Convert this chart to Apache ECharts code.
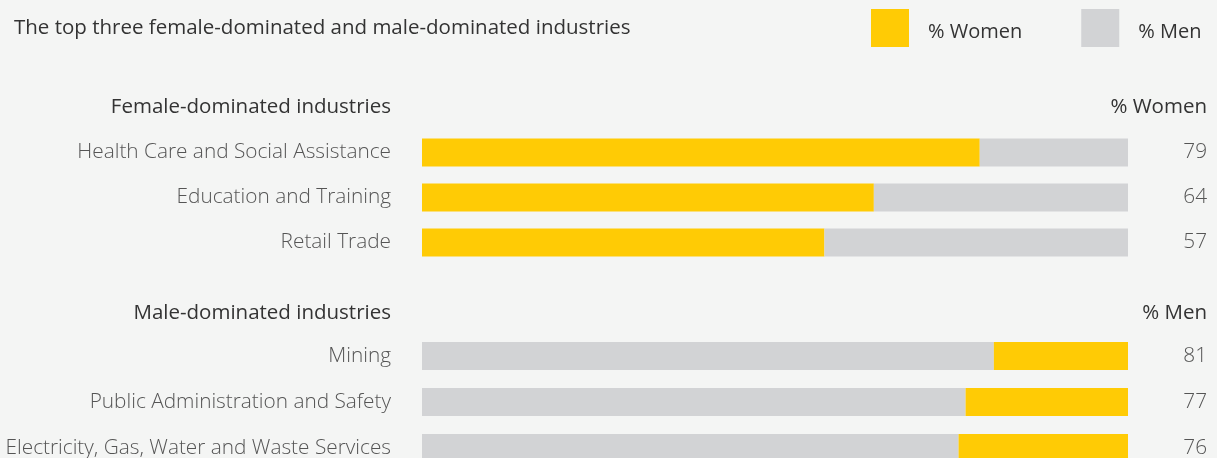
<!DOCTYPE html>
<html>
<head>
<meta charset="utf-8">
<script src="https://cdn.jsdelivr.net/npm/echarts@6/dist/echarts.min.js"></script>
<style>
  html, body { margin: 0; padding: 0; background: #f4f5f4; }
  #main { width: 1217px; height: 458px; }
</style>
</head>
<body>
<div id="main"></div>
<script>
// top three female-dominated industries
var femaleCats = ['Health Care and Social Assistance', 'Education and Training', 'Retail Trade'];
var femaleWomen = [79, 64, 57];
var femaleMen = [21, 36, 43];

// top three male-dominated industries
var maleCats = ['Mining', 'Public Administration and Safety', 'Electricity, Gas, Water and Waste Services'];
var maleMen = [81, 77, 76];
var maleWomen = [19, 23, 24];

var YELLOW = '#ffcb05';
var GREY = '#d2d3d5';
var FONT = '"Open Sans", sans-serif';

var myChart = echarts.init(document.getElementById('main'));

function catAxis(idx, data, side) {
    var left = side === 'left';
    return {
        type: 'category',
        gridIndex: idx,
        data: data,
        inverse: true,
        position: side,
        axisLine: { show: false },
        axisTick: { show: false },
        axisLabel: {
            margin: left ? 31 : 79,
            align: 'right',
            fontFamily: FONT,
            fontWeight: 300,
            fontSize: 20.8,
            color: '#555'
        }
    };
}

function header(text, right, top) {
    return {
        text: text,
        right: right,
        top: top,
        textStyle: { fontFamily: FONT, fontWeight: 'normal', fontSize: 20.5, color: '#333' }
    };
}

myChart.setOption({
    backgroundColor: '#f4f5f4',
    animation: false,
    title: [
        {
            text: 'The top three female-dominated and male-dominated industries',
            left: 9, top: 13,
            textStyle: { fontFamily: FONT, fontWeight: 'normal', fontSize: 20.5, color: '#333' }
        },
        header('Female-dominated industries', 821, 92),
        header('% Women', 5, 92),
        header('Male-dominated industries', 821, 298),
        header('% Men', 5, 298)
    ],
    legend: {
        left: 866, top: 4,
        itemWidth: 38, itemHeight: 38, itemGap: 59,
        icon: 'rect',
        data: ['% Women', '% Men'],
        formatter: '{t|{name}}',
        textStyle: {
            rich: {
                t: { fontFamily: FONT, fontSize: 20, color: '#333', padding: [9, 0, 0, 14] }
            }
        }
    },
    grid: [
        { left: 422, right: 89, top: 130, height: 135, outerBoundsMode: 'none' },
        { left: 422, right: 89, top: 333, height: 138, outerBoundsMode: 'none' }
    ],
    xAxis: [
        { type: 'value', gridIndex: 0, min: 0, max: 100, show: false },
        { type: 'value', gridIndex: 1, min: 0, max: 100, show: false }
    ],
    yAxis: [
        catAxis(0, femaleCats, 'left'),
        catAxis(0, femaleWomen.map(String), 'right'),
        catAxis(1, maleCats, 'left'),
        catAxis(1, maleMen.map(String), 'right')
    ],
    series: [
        { name: '% Women', type: 'bar', stack: 'f', xAxisIndex: 0, yAxisIndex: 0, barWidth: 28, itemStyle: { color: YELLOW }, data: femaleWomen },
        { name: '% Men', type: 'bar', stack: 'f', xAxisIndex: 0, yAxisIndex: 0, barWidth: 28, itemStyle: { color: GREY }, data: femaleMen },
        { name: '% Men', type: 'bar', stack: 'm', xAxisIndex: 1, yAxisIndex: 2, barWidth: 28, itemStyle: { color: GREY }, data: maleMen },
        { name: '% Women', type: 'bar', stack: 'm', xAxisIndex: 1, yAxisIndex: 2, barWidth: 28, itemStyle: { color: YELLOW }, data: maleWomen }
    ]
});
</script>
</body>
</html>
